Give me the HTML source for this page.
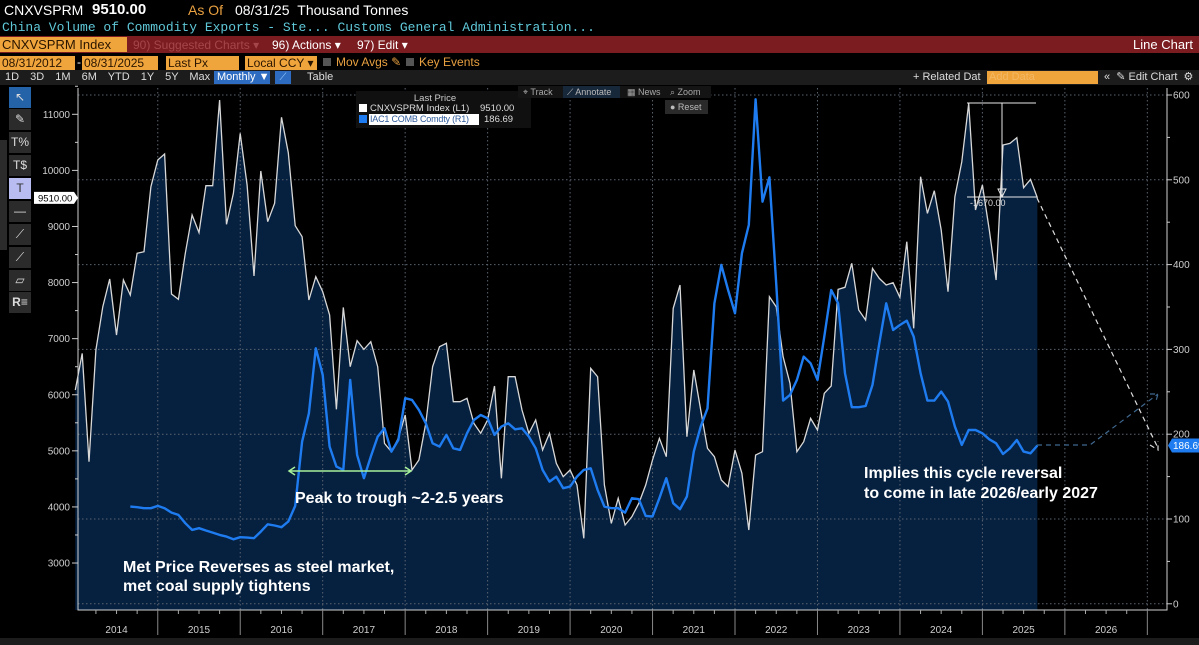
<!DOCTYPE html>
<html><head><meta charset="utf-8"><style>
*{margin:0;padding:0;box-sizing:border-box}
body{width:1199px;height:645px;background:#000;overflow:hidden;font-family:"Liberation Sans",sans-serif;position:relative}
.a{position:absolute;white-space:nowrap}
.ob{position:absolute;background:#f0a53c;color:#2a1500;font-size:12px;line-height:14px;padding-left:2px;height:14px}
.tb{position:absolute;width:22px;height:21px;background:#2b2b2b;color:#ddd;font-size:12px;text-align:center;line-height:21px}
</style></head><body>
<div class="a" style="left:4px;top:2px;font-size:14px;color:#fff">CNXVSPRM</div>
<div class="a" style="left:92px;top:1px;font-size:15px;color:#fff;font-weight:bold">9510.00</div>
<div class="a" style="left:188px;top:2px;font-size:14px;color:#e8a040">As Of</div>
<div class="a" style="left:235px;top:2px;font-size:14px;color:#fff">08/31/25 &nbsp;Thousand Tonnes</div>
<div class="a" style="left:2px;top:20px;font-family:'Liberation Mono',monospace;font-size:13px;color:#5fc8d8">China Volume of Commodity Exports - Ste...  Customs General Administration...</div>
<div class="a" style="left:0;top:36px;width:1199px;height:17px;background:#7b1c21"></div>
<div class="ob" style="left:0;top:37px;width:127px;height:15px;font-size:13px;line-height:15px">CNXVSPRM Index</div>
<div class="a" style="left:133px;top:38px;font-size:12px;color:#a5474a">90) Suggested Charts ▾</div>
<div class="a" style="left:272px;top:38px;font-size:12px;color:#fff">96) Actions ▾</div>
<div class="a" style="left:357px;top:38px;font-size:12px;color:#fff">97) Edit ▾</div>
<div class="a" style="right:6px;top:37px;font-size:13px;color:#fff">Line Chart</div>
<div class="ob" style="left:0;top:56px;width:75px">08/31/2012 ▦</div>
<div class="a" style="left:77px;top:55px;font-size:12px;color:#fff">-</div>
<div class="ob" style="left:82px;top:56px;width:76px">08/31/2025 ▦</div>
<div class="ob" style="left:166px;top:56px;width:73px">Last Px</div>
<div class="ob" style="left:245px;top:56px;width:72px">Local CCY ▾</div>
<div class="a" style="left:323px;top:55px;font-size:12px;color:#e8a040"><span style="display:inline-block;width:8px;height:8px;background:#555;margin-right:5px"></span>Mov Avgs ✎</div>
<div class="a" style="left:406px;top:55px;font-size:12px;color:#e8a040"><span style="display:inline-block;width:8px;height:8px;background:#555;margin-right:5px"></span>Key Events</div>
<div class="a" style="left:0;top:70px;width:1199px;height:15px;background:#1c1c1c"></div>
<div class="a" style="left:5px;top:71px;font-size:11px;color:#ddd;word-spacing:8px">1D 3D 1M 6M YTD 1Y 5Y Max</div>
<div class="a" style="left:214px;top:71px;width:56px;height:13px;background:#2d6cc0;color:#fff;font-size:11px;padding-left:3px;line-height:13px">Monthly ▼</div>
<div class="a" style="left:275px;top:71px;width:16px;height:13px;background:#2d6cc0;color:#9cf;font-size:10px;text-align:center;line-height:13px">⟋</div>
<div class="a" style="left:307px;top:71px;font-size:11px;color:#ddd">Table</div>
<div class="a" style="left:913px;top:71px;font-size:11px;color:#ddd">+ Related Dat</div>
<div class="ob" style="left:987px;top:71px;width:111px;height:13px;font-size:11px;line-height:13px;color:#fff3">Add Data</div>
<div class="a" style="left:1104px;top:70px;font-size:11px;color:#ddd">« &nbsp;✎ Edit Chart &nbsp;⚙</div>

<div class="a" style="left:0;top:140px;width:7px;height:110px;background:#2b2b2b"></div>
<div class="tb" style="left:9px;top:87px;background:#2563a8">↖</div>
<div class="tb" style="left:9px;top:109px">✎</div>
<div class="tb" style="left:9px;top:132px">T%</div>
<div class="tb" style="left:9px;top:155px">T$</div>
<div class="tb" style="left:9px;top:178px;background:#b8bcf0;color:#333">T</div>
<div class="tb" style="left:9px;top:201px">—</div>
<div class="tb" style="left:9px;top:224px">⟋</div>
<div class="tb" style="left:9px;top:247px">⟋</div>
<div class="tb" style="left:9px;top:270px">▱</div>
<div class="tb" style="left:9px;top:292px;font-weight:bold">R≡</div>
<div class="a" style="left:0;top:638px;width:1199px;height:7px;background:#1c1c1c"></div>

<svg id="chart" width="1199" height="645" style="position:absolute;left:0;top:0" xmlns="http://www.w3.org/2000/svg" font-family="Liberation Sans, sans-serif"></svg>

<script>
const startYear = 2014;
const yearLabels = ["2014","2015","2016","2017","2018","2019","2020","2021","2022","2023","2024","2025","2026"];
const leftTicks = [3000,4000,5000,6000,7000,8000,9000,10000,11000];
const rightTicks = [0,100,200,300,400,500,600];
const exportsSeries = [6084,6738,4807,6798,7570,8063,7065,8045,7778,8521,8551,9710,10185,10292,7796,7701,8521,9204,8890,9727,9727,11255,9038,9591,10660,9739,8117,9989,9085,9412,10946,10316,9014,8818,7689,8105,7838,7422,5740,7558,6500,
6964,6809,6946,6500,5133,4985,5223,5639,4658,4836,5490,6500,6857,6917,5876,5876,5936,5490,5312,5549,6156,4510,6322,6322,5728,5312,5549,5015,5312,4777,4539,4658,4391,3440,6471,6322,4391,3707,4153,
3677,3826,4064,4391,4836,5223,4896,7540,7956,5252,6441,5728,5044,4896,4480,4361,5015,4599,3588,4925,4985,7748,7570,6679,6203,4985,5163,5579,5371,6025,6156,7879,7915,8343,7511,7332,8253,8075,7956,
7998,7736,8729,7184,9888,9234,9638,8937,7837,9531,10155,11195,9293,9739,8937,8045,10452,10482,10583,9692,9840,9510];
const coalSeries = [null,null,null,null,null,null,null,null,
114.6,113.9,112.7,112.7,115.4,112.7,107.6,104.8,95.0,87.1,89.1,86.4,84.0,81.3,79.3,76.1,78.5,78.1,77.3,85.2,93.8,92.3,90.3,97.0,115.4,191.3,224.7,301.3,269.9,185.4,161.8,157.9,264.0,
175.6,148.1,173.6,197.2,207.0,179.5,193.2,242.4,240.4,228.6,212.9,189.3,185.4,199.2,183.4,181.5,201.1,216.8,222.7,218.8,199.2,209.0,212.9,205.8,207.0,197.2,183.4,157.9,144.1,150.0,136.3,138.2,150.0,157.9,159.8,134.3,114.6,112.7,112.7,
107.6,124.5,123.3,103.7,102.9,124.5,148.1,118.6,111.5,126.5,179.5,209.0,230.6,354.4,399.6,370.1,342.6,413.3,446.7,594.9,474.2,502.9,378.0,239.6,246.3,264.0,291.5,283.6,264.0,315.1,370.1,354.4,271.8,231.8,231.8,233.3,258.1,307.2,354.4,
322.9,328.8,333.9,315.1,271.8,239.6,239.6,250.2,238.4,209.0,187.4,205.0,205.0,201.1,194.0,189.3,176.7,183.4,193.2,179.5,177.5,186.69];

const NS = "http://www.w3.org/2000/svg";
const svg = document.getElementById('chart');
const X0 = 75.3, MW = 6.872;
function xOf(i){return X0 + i*MW;}
function yL(v){return 114.3 + (11000 - v)*0.05609;}
function yR(v){return 95 + (600 - v)*0.848;}
function mk(tag, attrs, parent){const e=document.createElementNS(NS,tag);for(const k in attrs)e.setAttribute(k,attrs[k]);(parent||svg).appendChild(e);return e;}
const PL=78, PR=1167, PT=88, PB=610;

let d = `M${xOf(0)},${PB}`;
exportsSeries.forEach((v,i)=>{d+=` L${xOf(i).toFixed(1)},${yL(v).toFixed(1)}`;});
d += ` L${xOf(exportsSeries.length-1).toFixed(1)},${PB} Z`;
const area = mk('path',{d:d,fill:'#06203f'});



rightTicks.forEach(t=>{
  const g = mk('line',{x1:PL,x2:PR,y1:yR(t),y2:yR(t),stroke:'#5a6470','stroke-width':1,'stroke-dasharray':'1.5,2.5'});
  
  
});
for(let y=1;y<=yearLabels.length+1;y++){
  const x = xOf(12*y);
  if(x>PR) break;
  const g = mk('line',{x1:x,x2:x,y1:PT,y2:PB,stroke:'#5a6470','stroke-width':1,'stroke-dasharray':'1.5,2.5'});
  
  
}

let pw = '';
exportsSeries.forEach((v,i)=>{pw += (i?' L':'M')+xOf(i).toFixed(1)+','+yL(v).toFixed(1);});
const lw = mk('path',{d:pw,fill:'none',stroke:'#d8d8d8','stroke-width':1.3});


let pb = '', started=false;
coalSeries.forEach((v,i)=>{if(v===null)return;pb += (started?' L':'M')+xOf(i).toFixed(1)+','+yR(v).toFixed(1);started=true;});
const lb = mk('path',{d:pb,fill:'none',stroke:'#1e7cf0','stroke-width':2.4,'stroke-linejoin':'round'});



const ax = mk('path',{d:`M${PL},${PT} L${PL},${PB} L${PR},${PB} L${PR},${PT}`,fill:'none',stroke:'#cfcfcf','stroke-width':1});


leftTicks.forEach(t=>{
  mk('line',{x1:PL-6,x2:PL,y1:yL(t),y2:yL(t),stroke:'#ccc'});
  mk('line',{x1:PL-3,x2:PL,y1:yL(t+500),y2:yL(t+500),stroke:'#ccc'});
  const tx = mk('text',{x:PL-8,y:yL(t)+3.5,'text-anchor':'end','font-size':10,fill:'#cfcfcf'});
  tx.textContent = t;
  
  
});
rightTicks.forEach(t=>{
  mk('line',{x1:PR,x2:PR+5,y1:yR(t),y2:yR(t),stroke:'#ccc'});
  if(t<600) mk('line',{x1:PR,x2:PR+3,y1:yR(t+50),y2:yR(t+50),stroke:'#ccc'});
  const tx = mk('text',{x:PR+6,y:yR(t)+3.5,'font-size':10,fill:'#cfcfcf'});
  tx.textContent = t;
  
  
});
for(let m=0;m<=160;m+=3){
  const x=xOf(m); if(x<PL||x>PR) continue;
  if(m%12===0) mk('line',{x1:x,x2:x,y1:PB,y2:635,stroke:'#888'});
  else mk('line',{x1:x,x2:x,y1:PB,y2:PB+4,stroke:'#aaa'});
}
yearLabels.forEach((yl,k)=>{
  const tx = mk('text',{x:xOf(12*k+6),y:633,'text-anchor':'middle','font-size':10,fill:'#cfcfcf'});
  tx.textContent = yl;
  
  
});

const lastI = exportsSeries.length-1;
const tagL = mk('g',{});


mk('path',{d:`M34,${yL(exportsSeries[lastI])-6} h40 l4,6 l-4,6 h-40 z`,fill:'#fff'},tagL);
mk('text',{x:38,y:yL(exportsSeries[lastI])+3.5,'font-size':9.5,fill:'#000'},tagL).textContent='9510.00';
const tagR = mk('g',{});


mk('path',{d:`M1168,${yR(coalSeries[lastI])} l4,-7 h28 v14 h-28 z`,fill:'#1e7cf0'},tagR);
mk('text',{x:1173,y:yR(coalSeries[lastI])+3.5,'font-size':10,fill:'#fff'},tagR).textContent='186.69';

const ma = mk('g',{stroke:'#e8e8e8','stroke-width':1,fill:'none'});


mk('path',{d:'M967,103 H1036 M1002,103 V197 M967,197 H1037 M998,189 L1006,189 L1002,197 Z'},ma);
const mt = mk('text',{x:970,y:206,'font-size':9,fill:'#ddd'});
mt.textContent='-1670.00';



const pj1 = mk('path',{d:'M1037,198 L1158,448 M1150,445 L1158,450 L1158,441',fill:'none',stroke:'#ddd','stroke-width':1.2,'stroke-dasharray':'5,4'});


const pj2 = mk('path',{d:'M1037,445 L1090,445 L1158,394 M1150,394 L1158,394 L1156,401',fill:'none',stroke:'#3f6890','stroke-width':1.2,'stroke-dasharray':'5,4'});



const ga = mk('path',{d:'M289,471 L411,471 M295,467 L289,471 L295,475 M405,467 L411,471 L405,475',fill:'none',stroke:'#a6f09a','stroke-width':1.5});



function note(x,y,t,name){const e=mk('text',{x:x,y:y,'font-size':16,'font-weight':'bold',fill:'#fff'});e.textContent=t;}
note(295,503,'Peak to trough ~2-2.5 years','peak-trough-note');
note(123,572,'Met Price Reverses as steel market,','met-price-note-line1');
note(123,591,'met coal supply tightens','met-price-note-line2');
note(864,478,'Implies this cycle reversal','cycle-note-line1');
note(864,498,'to come in late 2026/early 2027','cycle-note-line2');

const lg = mk('g',{});


mk('rect',{x:356,y:91,width:175,height:37,fill:'#101010'},lg);
mk('text',{x:435,y:101,'font-size':9.5,'text-anchor':'middle',fill:'#ccc'},lg).textContent='Last Price';
mk('rect',{x:359,y:104,width:8,height:8,fill:'#fff'},lg);
mk('text',{x:370,y:111,'font-size':9.5,fill:'#ddd'},lg).textContent='CNXVSPRM Index  (L1)';
mk('text',{x:480,y:111,'font-size':9.5,fill:'#ddd'},lg).textContent='9510.00';
mk('rect',{x:359,y:115,width:8,height:8,fill:'#1e7cf0'},lg);
mk('rect',{x:369,y:114,width:110,height:11,fill:'#fff'},lg);
mk('text',{x:370,y:122,'font-size':9,fill:'#2e5a9a','letter-spacing':'-0.2'},lg).textContent='IAC1 COMB Comdty (R1)';
mk('text',{x:484,y:122,'font-size':9.5,fill:'#ddd'},lg).textContent='186.69';

const ct = mk('g',{});


mk('rect',{x:518,y:86,width:193,height:12,fill:'#141414'},ct);
mk('rect',{x:563,y:86,width:57,height:12,fill:'#17283a'},ct);
mk('text',{x:523,y:95,'font-size':9,fill:'#aaa'},ct).textContent='⌖ Track';
mk('text',{x:567,y:95,'font-size':9,fill:'#bbb'},ct).textContent='⟋ Annotate';
mk('text',{x:627,y:95,'font-size':9,fill:'#aaa'},ct).textContent='▦ News';
mk('text',{x:670,y:95,'font-size':9,fill:'#aaa'},ct).textContent='⌕ Zoom';
mk('rect',{x:665,y:100,width:43,height:14,fill:'#2a2a2a'},ct);
mk('text',{x:670,y:110,'font-size':9,fill:'#bbb'},ct).textContent='● Reset';
</script>
</body></html>
